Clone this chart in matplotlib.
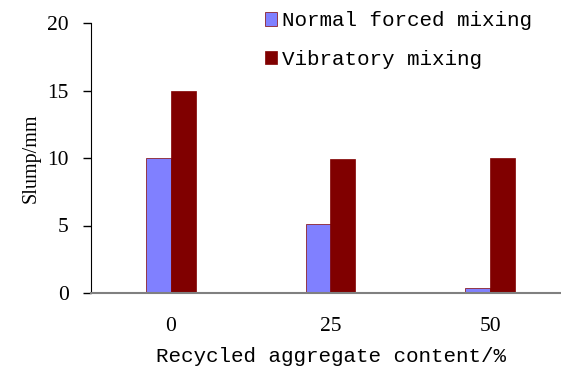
import numpy as np
import matplotlib.pyplot as plt

categories = ['0', '25', '50']
normal_forced = [10.0, 5.1, 0.4]
vibratory = [15.0, 9.9, 10.0]
series_names = ['Normal forced mixing', 'Vibratory mixing']

plt.rcParams['font.family'] = ['Liberation Mono', 'DejaVu Sans']
serif = ['Liberation Serif', 'DejaVu Serif']

fig = plt.figure(figsize=(5.61, 3.68), dpi=100)
ax = fig.add_axes([91/561, (368-293)/368, (570-91)/561, 270/368])

x = np.arange(len(categories))
w = 0.155
ax.bar(x - w/2, normal_forced, w, color='#8080FF', edgecolor='#800000', linewidth=0.5,
       label=series_names[0])
ax.bar(x + w/2, vibratory, w, color='#800000', edgecolor='#800000', linewidth=0.5,
       label=series_names[1])

ax.set_xlim(-0.5, 2.5)
ax.set_ylim(0, 20)
ax.set_yticks([0, 5, 10, 15, 20])
ax.set_xticks(x)
ax.set_xticklabels(categories)
for lab in ax.get_xticklabels() + ax.get_yticklabels():
    lab.set_fontfamily(serif)
ax.tick_params(axis='x', length=0, pad=17, labelsize=15.5)
ax.tick_params(axis='y', length=6, width=1, pad=10, labelsize=15.5)
ax.spines['top'].set_visible(False)
ax.spines['right'].set_visible(False)
ax.spines['bottom'].set_color('#808080')
ax.spines['bottom'].set_linewidth(1.5)
ax.set_xlabel('Recycled aggregate content/%', fontsize=15, labelpad=8)
ax.set_ylabel('Slump/mm', fontsize=14.5, family=serif, labelpad=5)

fig.legend(loc='upper left', bbox_to_anchor=(246/561, 1.02), frameon=False,
           fontsize=15, handlelength=0.6, handleheight=0.6, handletextpad=0.25,
           labelspacing=0.95)

fig.savefig('out.png', dpi=100)
